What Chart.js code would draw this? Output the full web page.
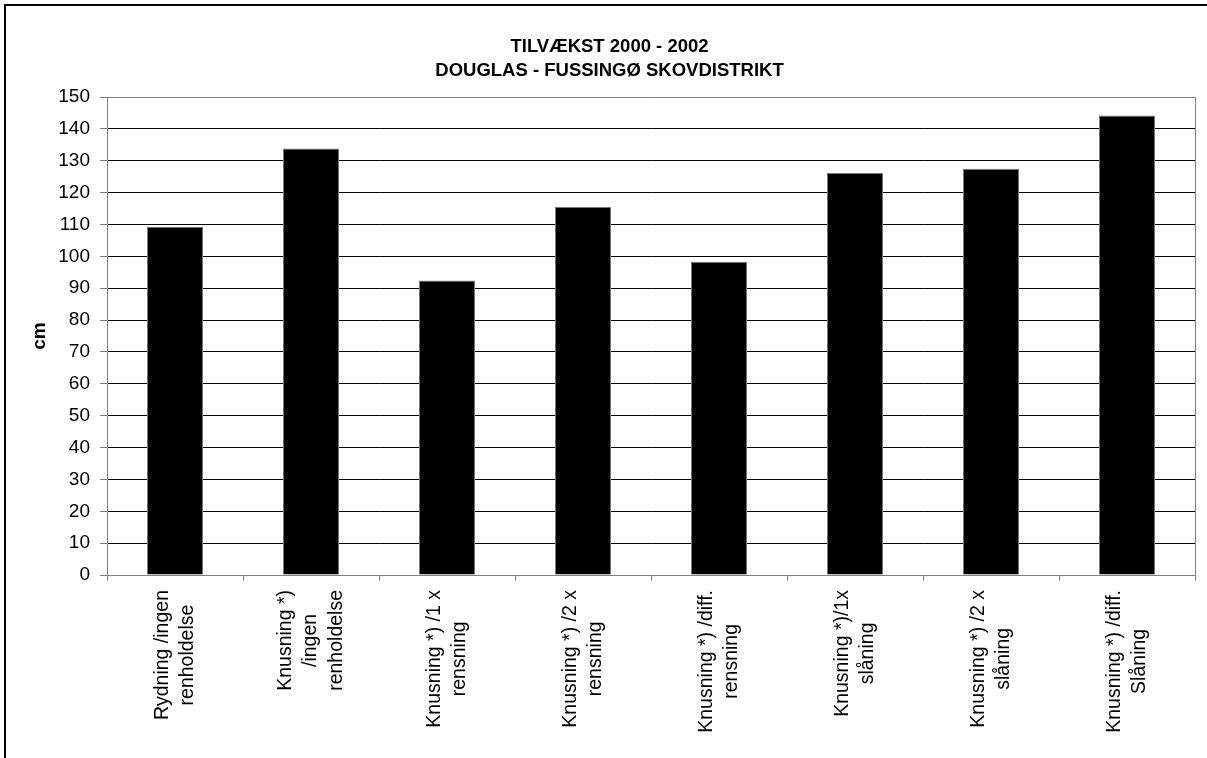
<!DOCTYPE html>
<html>
<head>
<meta charset="utf-8">
<script src="https://cdn.jsdelivr.net/npm/chart.js@4/dist/chart.umd.min.js"></script>
<style>
html,body{margin:0;padding:0;background:#fff;}
#wrap{position:relative;width:1207px;height:758px;}
</style>
</head>
<body>
<div id="wrap"><canvas id="c" width="1207" height="758"></canvas></div>
<script>
const titleLines = ['TILVÆKST 2000 - 2002', 'DOUGLAS - FUSSINGØ SKOVDISTRIKT'];
const yAxisTitle = 'cm';
const categories = [
  ['Rydning /ingen', 'renholdelse'],
  ['Knusning *)', '/ingen', 'renholdelse'],
  ['Knusning *) /1 x', 'rensning'],
  ['Knusning *) /2 x', 'rensning'],
  ['Knusning *) /diff.', 'rensning'],
  ['Knusning *)/1x', 'slåning'],
  ['Knusning *) /2 x', 'slåning'],
  ['Knusning *) /diff.', 'Slåning']
];
const values = [109.3, 133.9, 92.4, 115.5, 98.3, 126.2, 127.5, 144.2];
const yMin = 0, yMax = 150, yStep = 10;

const FONT = '"Liberation Sans", Arial, sans-serif';

const framePlugin = {
  id: 'frame',
  beforeDraw(chart) {
    const ctx = chart.ctx;
    ctx.save();
    ctx.fillStyle = '#fff';
    ctx.fillRect(0, 0, chart.width, chart.height);
    ctx.strokeStyle = '#000';
    ctx.lineWidth = 2;
    ctx.strokeRect(5, 5, chart.width + 20, chart.height + 20);
    ctx.restore();
  },
  afterDatasetsDraw(chart) {
    const {ctx, chartArea: a} = chart;
    ctx.save();
    ctx.strokeStyle = '#808080';
    ctx.lineWidth = 1;
    ctx.beginPath();
    ctx.moveTo(Math.round(a.right) + 0.5, a.top);
    ctx.lineTo(Math.round(a.right) + 0.5, a.bottom);
    ctx.stroke();
    ctx.restore();
  }
};

const xLabelPlugin = {
  id: 'xlabels',
  afterDraw(chart) {
    const {ctx, chartArea: a} = chart;
    const xs = chart.scales.x;
    ctx.save();
    ctx.font = '19.5px ' + FONT;
    ctx.fillStyle = '#000';
    ctx.textAlign = 'center';
    ctx.textBaseline = 'middle';
    const lh = 25.5;
    categories.forEach((lines, i) => {
      const cx = xs.getPixelForValue(i);
      const w = Math.max(...lines.map(l => ctx.measureText(l).width));
      const cy = a.bottom + 15 + w / 2;
      lines.forEach((l, j) => {
        const x = cx + (j - (lines.length - 1) / 2) * lh;
        ctx.save();
        ctx.translate(x, cy);
        ctx.rotate(-Math.PI / 2);
        ctx.fillText(l, 0, 0);
        ctx.restore();
      });
    });
    ctx.restore();
  }
};

new Chart(document.getElementById('c'), {
  type: 'bar',
  data: {
    labels: categories.map(c => c.join(' ')),
    datasets: [{
      data: values,
      backgroundColor: '#000',
      borderColor: '#777',
      borderWidth: 1,
      categoryPercentage: 1,
      barPercentage: 0.412
    }]
  },
  options: {
    responsive: false,
    animation: false,
    events: [],
    layout: { padding: { left: 24, right: 12, top: 0, bottom: 0 } },
    plugins: {
      legend: { display: false },
      tooltip: { enabled: false },
      title: {
        display: true,
        text: titleLines,
        color: '#000',
        font: { family: FONT, size: 18.5, weight: 'bold', lineHeight: 1.3 },
        padding: { top: 35, bottom: 14 }
      }
    },
    scales: {
      x: {
        afterFit(s) { s.height = 183; },
        grid: {
          offset: true,
          drawOnChartArea: false,
          drawTicks: true,
          tickLength: 6,
          tickColor: '#808080'
        },
        border: { color: '#808080', width: 1 },
        ticks: { display: false }
      },
      y: {
        min: yMin, max: yMax,
        afterFit(s) { s.width = 83; },
        ticks: {
          stepSize: yStep,
          color: '#000',
          padding: 10,
          font: { family: FONT, size: 19 }
        },
        grid: {
          color: (c) => (c.tick && (c.tick.value === yMax || c.tick.value === yMin)) ? '#808080' : '#000',
          tickColor: '#808080',
          tickLength: 7,
          lineWidth: 1
        },
        border: { color: '#808080', width: 1 },
        title: {
          display: true,
          text: yAxisTitle,
          color: '#000',
          font: { family: FONT, size: 19, weight: 'bold' },
          padding: { top: 4, bottom: 0 }
        }
      }
    }
  },
  plugins: [framePlugin, xLabelPlugin]
});
</script>
</body>
</html>
